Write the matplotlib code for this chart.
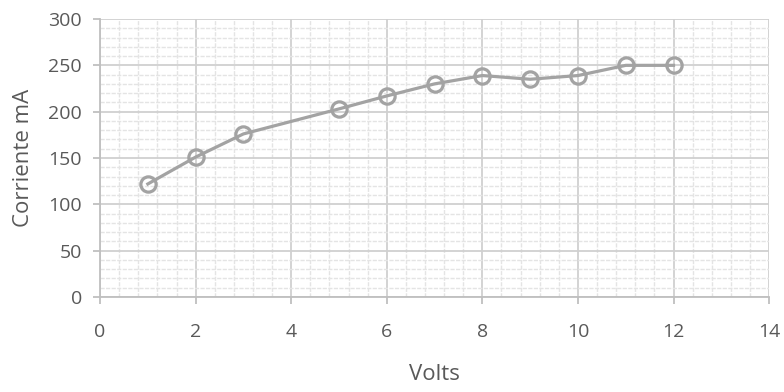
import matplotlib
matplotlib.use("Agg")
import matplotlib.pyplot as plt
from matplotlib.ticker import MultipleLocator

plt.rcParams['font.family'] = ['Open Sans', 'DejaVu Sans']

volts = [1, 2, 3, 5, 6, 7, 8, 9, 10, 11, 12]
corriente = [122, 151, 176, 203, 217, 230, 239, 235, 239, 250, 250]
x_ticks = [0, 2, 4, 6, 8, 10, 12, 14]
y_ticks = [0, 50, 100, 150, 200, 250, 300]

fig = plt.figure(figsize=(7.84, 3.92), dpi=100)
ax = fig.add_axes([0.1276, 0.2423, 0.8534, 0.7092])

ax.set_xlim(0, 14)
ax.set_ylim(0, 300)
ax.set_xticks(x_ticks)
ax.set_yticks(y_ticks)
ax.xaxis.set_minor_locator(MultipleLocator(0.4))
ax.yaxis.set_minor_locator(MultipleLocator(10))

ax.grid(which='major', color='#D0D0D0', linewidth=1.3)
ax.grid(which='minor', color='#E4E4E4', linewidth=1.0, linestyle=(0, (3, 1)))
ax.set_axisbelow(True)

ax.plot(volts, corriente, color='#A3A3A3', linewidth=2.3, marker='o', markersize=11,
        markerfacecolor='none', markeredgecolor='#A3A3A3', markeredgewidth=2.3, zorder=3)

for s in ['top', 'right']:
    ax.spines[s].set_visible(False)
for s in ['left', 'bottom']:
    ax.spines[s].set_color('#BFBFBF')
    ax.spines[s].set_linewidth(1.3)

ax.tick_params(which='major', length=5, color='#BFBFBF', labelcolor='#595959', labelsize=14, width=1.3)
ax.tick_params(axis='x', pad=14)
ax.tick_params(axis='y', pad=8)
ax.tick_params(which='minor', length=0)

ax.set_xlabel('Volts', fontsize=16, color='#595959', labelpad=16)
ax.set_ylabel('Corriente mA', fontsize=16, color='#595959', labelpad=10)

fig.savefig('out.png', dpi=100, facecolor='white')
